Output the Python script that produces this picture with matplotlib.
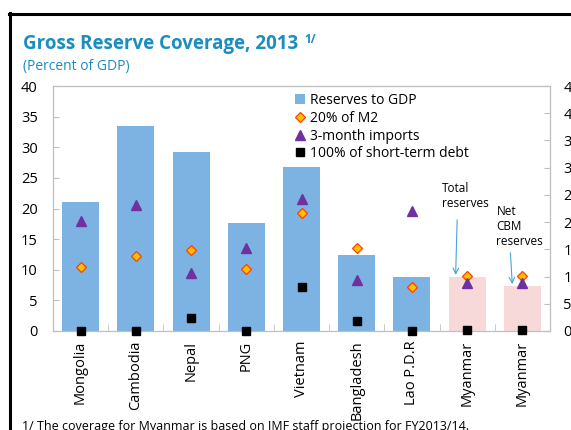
import matplotlib
matplotlib.use("Agg")
import matplotlib.pyplot as plt
from matplotlib.patches import Patch
from matplotlib.lines import Line2D
import numpy as np

plt.rcParams['font.family'] = ['Open Sans', 'DejaVu Sans']

countries = ["Mongolia", "Cambodia", "Nepal", "PNG", "Vietnam", "Bangladesh",
             "Lao P.D.R", "Myanmar", "Myanmar"]
reserves_gdp = [21.0, 33.4, 29.3, 17.6, 26.8, 12.4, 8.8, 8.8, 7.3]
m2_20pct = [10.4, 12.2, 13.2, 10.1, 19.2, 13.6, 7.2, 9.0, 9.0]
imports_3m = [17.9, 20.5, 9.4, 13.5, 21.5, 8.3, 19.6, 7.8, 7.8]
st_debt = [0.0, 0.0, 2.2, 0.0, 7.2, 1.6, 0.0, 0.2, 0.2]
left_ticks = [0, 5, 10, 15, 20, 25, 30, 35, 40]
right_ticks = [0, 5, 10, 15, 20, 25, 30, 35, 40, 45]

BLUE = "#7cb3e3"
PINK = "#f8d9da"
TITLE_C = "#1b8dbf"
GRID_C = "#bfbfbf"
ARROW_C = "#4aa3d8"

fig = plt.figure(figsize=(5.71, 4.30), dpi=100)
W, H = 571, 430
ax = fig.add_axes([53 / W, 1 - 331 / H, (550 - 53) / W, (331 - 86) / H])

x = np.arange(len(countries))
colors = [BLUE] * 7 + [PINK] * 2
ax.bar(x, reserves_gdp, width=0.67, color=colors, zorder=2)
ax.plot(x, m2_20pct, linestyle="none", marker="D", markersize=5.2,
        markerfacecolor="#ffc000", markeredgecolor="#ff4000", markeredgewidth=0.9,
        zorder=4, clip_on=False)
ax.plot(x, imports_3m, linestyle="none", marker="^", markersize=7,
        color="#7030a0", zorder=4, clip_on=False)
ax.plot(x, st_debt, linestyle="none", marker="s", markersize=6,
        color="black", zorder=5, clip_on=False)

ax.set_xlim(-0.5, len(countries) - 0.5)
ax.set_ylim(0, 40)
ax.set_yticks(left_ticks)
ax.set_xticks(x)
ax.set_xticklabels(countries, rotation=90, fontsize=10.5)
ax.tick_params(axis="x", length=0, pad=7)
ax.set_xticks(np.arange(0.5, len(countries) - 0.5), minor=True)
ax.tick_params(axis="x", which="minor", direction="in", length=5, color=GRID_C)
ax.tick_params(axis="y", direction="in", length=4, color=GRID_C, labelsize=10.5, pad=11)
for sp in ax.spines.values():
    sp.set_color(GRID_C)
    sp.set_linewidth(0.9)

ax2 = ax.twinx()
ax2.set_ylim(0, 45)
ax2.set_yticks(right_ticks)
ax2.tick_params(axis="y", direction="in", length=4.5, color=GRID_C, labelsize=10.5, pad=9.5)
for sp in ax2.spines.values():
    sp.set_visible(False)

handles = [
    Patch(facecolor=BLUE, edgecolor="none"),
    Line2D([], [], linestyle="none", marker="D", markersize=5.2,
           markerfacecolor="#ffc000", markeredgecolor="#ff4000", markeredgewidth=0.9),
    Line2D([], [], linestyle="none", marker="^", markersize=7, color="#7030a0"),
    Line2D([], [], linestyle="none", marker="s", markersize=6, color="black"),
]
labels = ["Reserves to GDP", "20% of M2", "3-month imports", "100% of short-term debt"]
leg = ax.legend(handles, labels, loc="upper left", bbox_to_anchor=(295 / W, 1 - 93 / H),
                bbox_transform=fig.transFigure, frameon=False, fontsize=10,
                handlelength=0.75, handleheight=0.75, handletextpad=0.35,
                labelspacing=0.2, borderpad=0, borderaxespad=0)

# Myanmar annotations
ax.annotate("", xy=(6.79, 8.7), xytext=(6.82, 18.6),
            arrowprops=dict(arrowstyle="->", color=ARROW_C, lw=0.8))
ax.text(6.55, 19.7, "Total\nreserves", fontsize=8.5, ha="left", va="bottom",
        linespacing=1.2)
ax.annotate("", xy=(7.82, 7.2), xytext=(7.78, 13.2),
            arrowprops=dict(arrowstyle="->", color=ARROW_C, lw=0.8))
ax.text(7.53, 13.6, "Net\nCBM\nreserves", fontsize=8.5, ha="left", va="bottom",
        linespacing=1.2)

# Titles and footnote
title = fig.text(23 / W, 1 - 49 / H, "Gross Reserve Coverage, 2013", fontsize=13.5,
                 fontweight="bold", color=TITLE_C, va="baseline")
fig.canvas.draw()
bb = title.get_window_extent()
fig.text((bb.x1 + 6) / W, 1 - 43 / H, "1/", fontsize=8.5, fontweight="bold",
         color=TITLE_C, va="baseline")
fig.text(23 / W, 1 - 70 / H, "(Percent of GDP)", fontsize=10, color=TITLE_C,
         va="baseline")
fig.text(22 / W, 1 - 430.5 / H,
         "1/ The coverage for Myanmar is based on IMF staff projection for FY2013/14.",
         fontsize=9, va="baseline")

# Outer frame
fig.add_artist(Line2D([10 / W, 10 / W], [0, 1 - 13 / H], color="black", lw=2.2,
                      transform=fig.transFigure))
fig.add_artist(Line2D([9 / W, 1], [1 - 13.5 / H, 1 - 13.5 / H], color="black", lw=2.2,
                      transform=fig.transFigure))

fig.savefig("out.png", dpi=100)
